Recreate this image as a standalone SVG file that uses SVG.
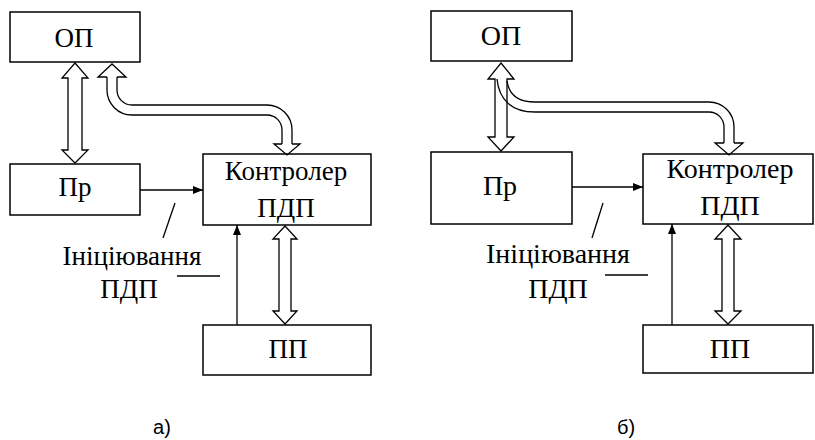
<svg xmlns="http://www.w3.org/2000/svg" width="815" height="440" viewBox="0 0 815 440">
  <defs>
    <marker id="arr" viewBox="0 0 10 8" refX="10" refY="4" markerWidth="10" markerHeight="8" markerUnits="userSpaceOnUse" orient="auto">
      <path d="M0,0 L10,4 L0,8 Z" fill="#000"/>
    </marker>
    <style>
      .box { fill: #fff; stroke: #000; stroke-width: 1.5; }
      .t { font-family: "Liberation Serif", "Times New Roman", serif; font-size: 27px; fill: #000; text-anchor: middle; }
      .t2 { font-size: 28px; }
      .cap { font-family: "Liberation Sans", Arial, sans-serif; font-size: 20px; fill: #000; text-anchor: middle; }
      .bus { fill: #fff; stroke: #000; stroke-width: 1.3; stroke-linejoin: miter; }
      .edge { fill: none; stroke: #000; stroke-width: 1.3; }
      .sig { fill: none; stroke: #000; stroke-width: 1.3; }
    </style>
  </defs>

  <!-- scheme a) -->
  <g id="a-op"><rect class="box" x="10" y="12" width="130" height="50"/><text class="t" x="74" y="47">ОП</text></g>
  <g id="a-pr"><rect class="box" x="10" y="164" width="130" height="51"/><text class="t" x="75" y="196">Пр</text></g>
  <g id="a-ctrl"><rect class="box" x="203" y="154" width="168" height="71"/><text class="t" x="286" y="180">Контролер</text><text class="t" x="286" y="217">ПДП</text></g>
  <g id="a-pp"><rect class="box" x="203" y="325" width="168" height="50"/><text class="t" x="288" y="358">ПП</text></g>
  <g id="a-label"><text class="t" x="132" y="265">Ініціювання</text><text class="t" x="129" y="298">ПДП</text></g>

  <g id="a-connectors">
    <!-- ОП <-> Пр -->
    <polygon class="bus" points="75,63 88,78 82,78 82,150 88,150 75,163 62,150 68,150 68,78 62,78"/>
    <!-- ОП <-> controller, bent bus -->
    <path class="edge" d="M107,77 L107,90 A25,25 0 0 0 132,115 L267,115 A15,15 0 0 1 282,130 L282,144"/>
    <path class="edge" d="M117,77 L117,90 A15,15 0 0 0 132,105 L267,105 A25,25 0 0 1 292,130 L292,144"/>
    <polyline class="edge" points="107,77 98,77 112,64 126,77 117,77"/>
    <polyline class="edge" points="282,144 274,144 287,155 300,144 292,144"/>
    <!-- controller <-> ПП -->
    <polygon class="bus" points="285,226 297,239 291,239 291,311 297,311 285,324 273,311 279,311 279,239 273,239"/>
    <!-- request and initiation signals -->
    <line class="sig" x1="140" y1="190" x2="203" y2="190" marker-end="url(#arr)"/>
    <line class="sig" x1="237" y1="325" x2="237" y2="225" marker-end="url(#arr)"/>
    <line class="sig" x1="175" y1="203" x2="163" y2="238"/>
    <line class="sig" x1="177" y1="276" x2="220" y2="276"/>
  </g>
  <text class="cap" x="162" y="434">а)</text>

  <!-- scheme б) -->
  <g id="b-op"><rect class="box" x="431" y="11" width="141" height="50"/><text class="t t2" x="501" y="45">ОП</text></g>
  <g id="b-pr"><rect class="box" x="431" y="152" width="141" height="72"/><text class="t t2" x="500" y="195">Пр</text></g>
  <g id="b-ctrl"><rect class="box" x="643" y="154" width="170" height="70"/><text class="t t2" x="730" y="178">Контролер</text><text class="t t2" x="730" y="215">ПДП</text></g>
  <g id="b-pp"><rect class="box" x="643" y="325" width="170" height="48"/><text class="t t2" x="730" y="358">ПП</text></g>
  <g id="b-label"><text class="t t2" x="558" y="263">Ініціювання</text><text class="t t2" x="558" y="298">ПДП</text></g>

  <g id="b-connectors">
    <!-- ОП <-> Пр, with the controller bus branching off the same head -->
    <polygon class="bus" points="501,63 514,79 507,79 507,137 514,137 501,151 488,137 495,137 495,79 488,79"/>
    <path class="edge" d="M497,79 C499,100 512,112 535,112 L709,112 A15,15 0 0 1 724,127 L724,143"/>
    <path class="edge" d="M507,81 C509,95 518,102 535,102 L709,102 A25,25 0 0 1 734,127 L734,143"/>
    <polyline class="edge" points="724,143 715,143 729,155 743,143 734,143"/>
    <!-- controller <-> ПП -->
    <polygon class="bus" points="728,225 741,239 734,239 734,311 741,311 728,324 715,311 722,311 722,239 715,239"/>
    <!-- request and initiation signals -->
    <line class="sig" x1="572" y1="187" x2="643" y2="187" marker-end="url(#arr)"/>
    <line class="sig" x1="672" y1="325" x2="672" y2="224" marker-end="url(#arr)"/>
    <line class="sig" x1="603" y1="203" x2="592" y2="238"/>
    <line class="sig" x1="605" y1="275" x2="648" y2="275"/>
  </g>
  <text class="cap" x="626" y="434">б)</text>
</svg>
